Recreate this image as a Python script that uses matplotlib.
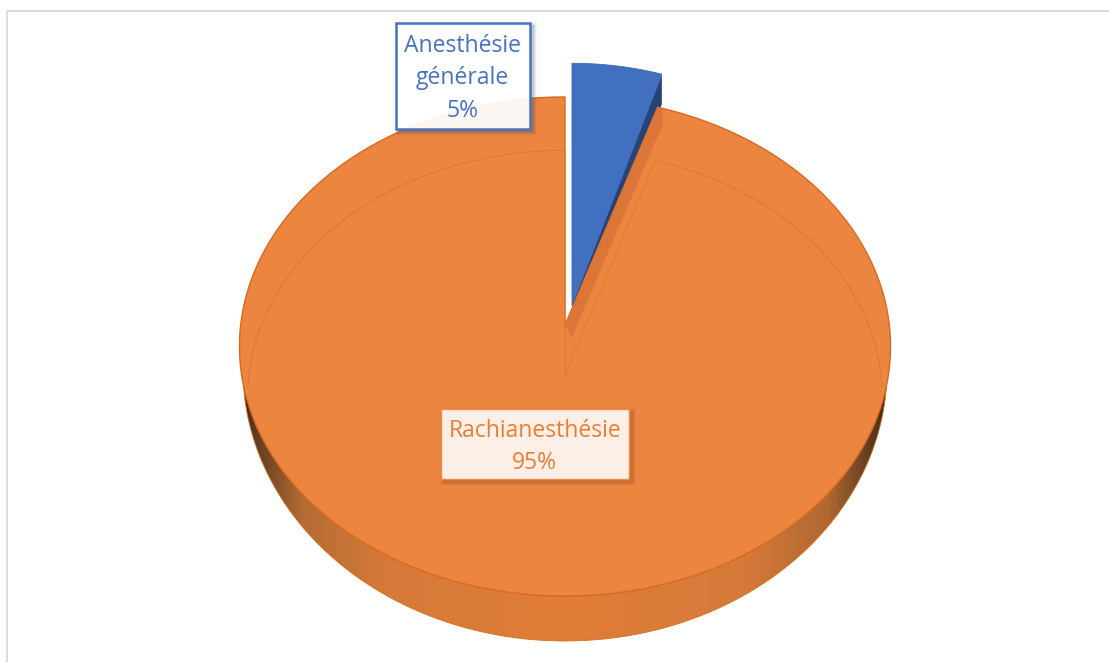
import numpy as np
import matplotlib
matplotlib.use("Agg")
import matplotlib.pyplot as plt
from matplotlib.patches import Polygon, Rectangle, PathPatch
from matplotlib.path import Path
from matplotlib.colors import LinearSegmentedColormap

categories = ["Anesthésie\ngénérale", "Rachianesthésie"]
values = [5, 95]
colors = ["#4070BF", "#EB8540"]
text_colors = ["#4472C4", "#ED7D31"]

plt.rcParams["font.family"] = ["Open Sans", "DejaVu Sans"]
fig = plt.figure(figsize=(11.09, 6.62), dpi=100)
ax = fig.add_axes([0, 0, 1, 1])
ax.set_xlim(0, 1109)
ax.set_ylim(662, 0)
ax.axis("off")

# frame
ax.plot([7, 7, 1109], [662, 11, 11], color="#DCDCDC", lw=1.44, solid_joinstyle="miter")

CX, CY, A, B, K = 565.0, 325.0, 324.3, 247.7, 0.0862

def proj(theta, cx=CX, cy=CY, a=A, b=B):
    t = np.radians(theta)
    u, v = np.sin(t), np.cos(t)
    d = 1 + K * v
    return cx + a * u / d, cy - b * v / d

total = sum(values)
sweep = [v / total * 360 for v in values]
t_blue = np.linspace(0, sweep[0], 60)
t_orange = np.linspace(sweep[0], 360, 800)

# side wall with horizontal gradient
side_cmap = LinearSegmentedColormap.from_list("side", [
    (0.0, "#40291A"), (0.015, "#5A3A20"), (0.09, "#B56B33"), (0.22, "#D67A3A"),
    (0.5, "#E07D38"), (0.78, "#D67A3A"), (0.91, "#B06830"), (0.985, "#54361F"), (1.0, "#40291A")])
grad = np.linspace(0, 1, 512).reshape(1, -1)
SX, SY, SA, SB = 565.0, 370.0, 322.0, 271.0
im = ax.imshow(grad, cmap=side_cmap, extent=(SX - SA, SX + SA, 662, 0), aspect="auto", zorder=1)
ang = np.linspace(0, np.pi, 400)
ex, ey = SX + SA * np.cos(ang), SY + SB * np.sin(ang)
clip = Polygon(np.c_[ex, ey], closed=True, transform=ax.transData)
im.set_clip_path(clip)
ax.plot(ex, ey, color="#D9701F", lw=0.6, zorder=1.1)
ax.set_xlim(0, 1109)
ax.set_ylim(662, 0)

# exploded slice: position and scale
BX, BY, BS, BA = 572.0, 305.0, 1.06, 0.97
bx, by = proj(t_blue, BX, BY, A * BA, B * BS)
# blue side wall
DEPTH = 30
ax.add_patch(Polygon([(BX, BY), (bx[-1], by[-1]), (bx[-1], by[-1] + DEPTH), (BX, BY + DEPTH)],
                     closed=True, fc="#264478", ec="none", zorder=2))

# orange top
ox, oy = proj(t_orange)
ax.add_patch(Polygon(np.r_[[[CX, CY]], np.c_[ox, oy]], closed=True, fc=colors[1],
                     ec="#D9691F", lw=1.0, zorder=3))

# orange inner wall of the notch
ex0, ey0 = ox[0], oy[0]
ax.add_patch(Polygon([(CX, CY), (ex0, ey0), (ex0 + 5, ey0 + 1), (ex0 + 5, ey0 + 18),
                      (ex0 - 3, ey0 + 36), (CX + 7, CY + 12)],
                     closed=True, fc="#DB7638", ec="none", zorder=3.2))

# bevel contour
IY = 375.0
ia, ib = 316.0, 244.0
for t0, t1 in [(sweep[0], 93), (267, 360)]:
    tt = np.linspace(t0, t1, 300)
    ix, iy = proj(tt, CX, IY, ia, ib)
    ax.plot(ix, iy, color="#DF782F", lw=0.8, zorder=3.3)
ix0, iy0 = proj(np.array([sweep[0]]), CX, IY, ia, ib)
ax.plot([ix0[0], CX, CX], [iy0[0], IY, IY - ib / (1 + K)], color="#E17B33", lw=0.8, zorder=3.3)

# blue top
ax.add_patch(Polygon(np.r_[[[BX, BY]], np.c_[bx, by]], closed=True, fc=colors[0],
                     ec="#3D6AB5", lw=0.6, zorder=4))

# labels
def rect_path(x0, y0, x1, y1, reverse=False):
    pts = [(x0, y0), (x1, y0), (x1, y1), (x0, y1), (x0, y0)]
    if reverse:
        pts = pts[::-1]
    return pts

def label(x0, y0, x1, y1, edge, face, alpha, lw, text, color, ys, shadow):
    for i, a in zip(range(8, 0, -1), [.015, .02, .03, .035, .04, .045, .05, .06]):
        outer = rect_path(x0 + 3 - i / 2, y0 + 3 - i / 2, x1 + 3 + i / 2, y1 + 3 + i / 2)
        inner = rect_path(x0, y0, x1, y1, reverse=True)
        codes = [Path.MOVETO, Path.LINETO, Path.LINETO, Path.LINETO, Path.CLOSEPOLY]
        ax.add_patch(PathPatch(Path(outer + inner, codes + codes), fc=shadow, alpha=a, ec="none", zorder=5))
    ax.add_patch(Rectangle((x0, y0), x1 - x0, y1 - y0, fc=face, alpha=alpha, ec="none", zorder=5.5))
    ax.add_patch(Rectangle((x0, y0), x1 - x0, y1 - y0, fc="none", ec=edge, lw=lw, zorder=5.6))
    for s, y in zip(text, ys):
        ax.text((x0 + x1) / 2, y, s, color=color, fontsize=16.5, ha="center", va="center", zorder=6)

lines0 = categories[0].split("\n") + [f"{values[0]}%"]
lines1 = [categories[1], f"{values[1]}%"]
label(395.5, 22.5, 530, 128.5, text_colors[0], "#FFFFFF", 0.94, 1.8, lines0, text_colors[0],
      [46, 78, 111], "#1F3864")
label(440.5, 408.5, 629, 479, "#EF8A48", "#FFFFFF", 0.88, 1.0, lines1, text_colors[1],
      [431, 463], "#7A3A10")

fig.savefig("out.png", dpi=100)
